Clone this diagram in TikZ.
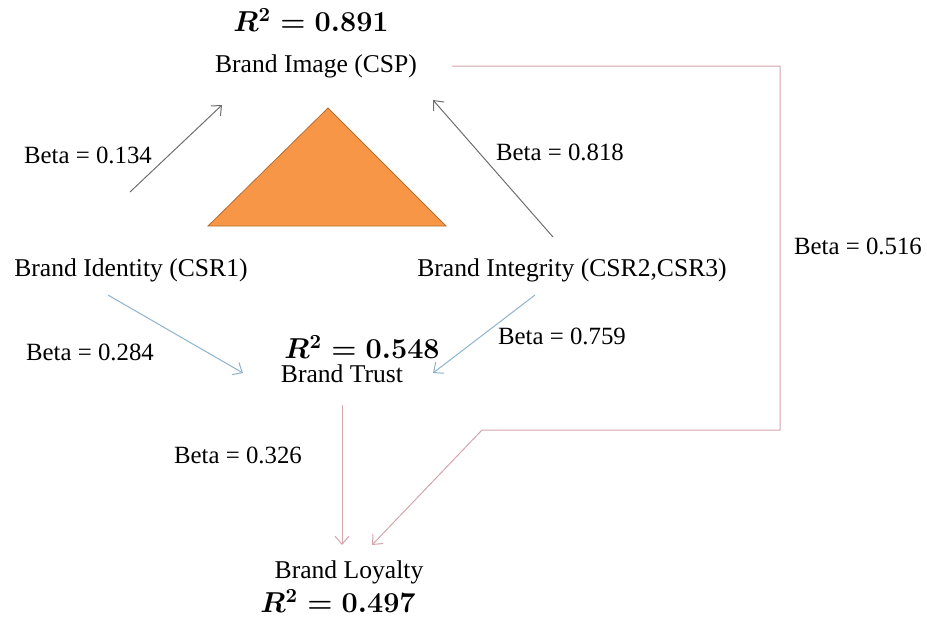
\documentclass[tikz,border=0pt]{standalone}
\usepackage{fontspec}
\setmainfont{Liberation Serif}
\usetikzlibrary{arrows.meta,calc}
\definecolor{triorange}{HTML}{F79646}
\definecolor{triedge}{HTML}{B66D31}
\definecolor{greyline}{HTML}{6E6E6E}
\definecolor{blueline}{HTML}{8DB3CC}
\definecolor{pinkline}{HTML}{D4A5AA}
\tikzset{
construct/.style={inner sep=0pt,font=\fontsize{12.8}{15}\selectfont},
rsq/.style={inner sep=0pt,font=\fontsize{14.5}{17}\selectfont\boldmath},
beta/.style={inner sep=1pt,font=\fontsize{12.4}{14}\selectfont},
path grey/.style={-{Straight Barb[length=4pt,width=7pt]},draw=greyline,line width=0.5pt},
path blue/.style={-{Straight Barb[length=4pt,width=7pt]},draw=blueline,line width=0.5pt},
path pink/.style={-{Straight Barb[length=4pt,width=7pt]},draw=pinkline,line width=0.5pt}
}

\begin{document}
\begin{tikzpicture}[x=0.5pt,y=-0.5pt]
\useasboundingbox (0,0) rectangle (927,617);

\node[rsq] (r1) at (311,20) {$R^2 = 0.891$};
\node[construct] (image) at (316,66) {Brand Image (CSP)};
\node[construct] (ident) at (131,270) {Brand Identity (CSR1)};
\node[construct] (integ) at (572,270) {Brand Integrity (CSR2,CSR3)};
\node[rsq] (r2) at (362,347) {$R^2 = 0.548$};
\node[construct] (trust) at (342,374) {Brand Trust};
\node[construct] (loyal) at (349,572) {Brand Loyalty};
\node[rsq] (r3) at (338,601) {$R^2 = 0.497$};

% the triangle
\draw[triedge,fill=triorange] (328,108) -- (446,226) -- (208,226) -- cycle;

% ends of the arrows
\coordinate (identA) at (130,192);
\coordinate (imageA) at (222,105);
\coordinate (integA) at (553,237);
\coordinate (imageB) at (433,100);
\coordinate (identB) at (108,295);
\coordinate (trustA) at (243,373);
\coordinate (integB) at (535,295);
\coordinate (trustB) at (433,373);
\coordinate (trustC) at (342,405);
\coordinate (loyalA) at (342,545);
\coordinate (imageC) at (452,66);
\coordinate (loyalB) at (372,545);

\path (identA) edge[path grey] (imageA);
\path (integA) edge[path grey] (imageB);
\path (identB) edge[path blue] (trustA);
\path (integB) edge[path blue] (trustB);
\path (trustC) edge[path pink] (loyalA);
\draw[path pink] (imageC) -- (780,66) -- (780,430) -- (482,430) -- (loyalB);

\node[beta] (b1) at (88,155) {Beta = 0.134};
\node[beta] (b2) at (560,152) {Beta = 0.818};
\node[beta] (b3) at (90,352) {Beta = 0.284};
\node[beta] (b4) at (562,336) {Beta = 0.759};
\node[beta] (b5) at (238,455) {Beta = 0.326};
\node[beta] (b6) at (858,246) {Beta = 0.516};

\end{tikzpicture}
\end{document}
